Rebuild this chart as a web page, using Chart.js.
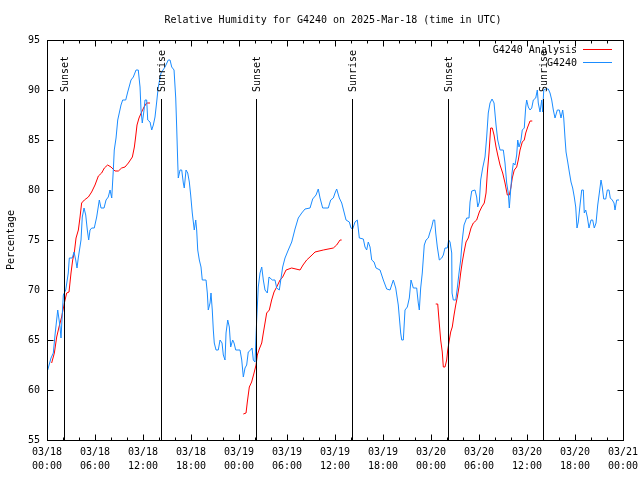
<!DOCTYPE html>
<html>
<head>
<meta charset="utf-8">
<script src="https://cdn.jsdelivr.net/npm/chart.js@4.4.1/dist/chart.umd.min.js"></script>
<style>
  html, body { margin: 0; padding: 0; background: #fff; }
  #wrap { width: 640px; height: 480px; }
</style>
</head>
<body>
<div id="wrap"><canvas id="rhChart" width="640" height="480"></canvas></div>
<script>
// hours since 03/18 00:00 UTC
const obsHoursA = [0.09,0.5,0.79,1.0,1.34,1.63,1.75,2.04,2.34,2.66,2.79,3.16,3.38,3.59,3.75,3.91,4.25,4.41,4.63,4.84,5.04,5.21,5.38,5.59,5.91,6.21,6.54,6.75,7.13,7.38,7.66,7.88,8.09,8.29,8.41,8.63,8.84,9.25,9.46,9.84,10.09,10.5,10.79,11.13,11.41,11.63,11.75,11.91,12.13,12.25,12.46,12.59,12.88,13.09,13.29,13.5,13.71,13.91,14.25];
const obsRHA = [62.0,63.2,63.7,65.5,68,66.3,65.2,69.5,70,71.7,73.2,73.2,73.8,73,72.2,73.2,75,77.3,78.2,77.5,76,75,76,76.2,76.2,77.3,79,78.2,78.2,79,79.3,80,79.2,82,84,85.2,87,88.5,89,89,89.8,91,91.3,92,92,90.3,88,86.7,88,89,89,87,86.8,86,86.5,87.3,88.8,90.3,91.7];

const obsHoursB = [14.75,15.16,15.38,15.59,15.88,16.09,16.21,16.34,16.41,16.63,16.84,17.04,17.16,17.38,17.59,17.79,17.96,18.16,18.41,18.59,18.71,18.84,19.04,19.25,19.41,19.88,20.04,20.16,20.38,20.5,20.66,20.79,20.91,21.13,21.41,21.63,21.88,22.04,22.25,22.38,22.59,22.79,22.96,23.21,23.38,23.59,24.13,24.34,24.54,24.75,24.96,25.16,25.46,25.63,25.79,26.0,26.21,26.41,26.63,26.84,27.04,27.25,27.54,27.75,28.16,28.5,28.71,29.04];
const obsRHB = [92.3,93,93,92.3,92,89.2,86.3,82.8,81.2,82,82,80.7,80.2,82,81.7,80.8,79.5,77.7,76,77,76,74,73,72.3,71,71,69.7,68,68.7,69.7,68,66,64.7,64,64,65,64.7,63.5,63,65.7,67,66.3,64.3,65,64.7,64,64,63,61.3,62.2,62.5,63.8,64,64.2,63,62.8,67,70.3,71.7,72.3,71,70,69.7,71.3,71,71,70.2,70];

const obsHoursC = [29.46,29.75,30.16,30.59,31.0,31.41,31.84,32.25,32.88,33.21,33.63,33.91,34.13,34.46,35.16,35.46,35.79,36.0,36.21,36.54,36.84,37.16,37.38,37.79,38.0,38.21,38.5,38.79,39.04,39.54,39.75,39.96,40.16,40.38,40.59,40.88,41.13,41.63,42.04,42.46,42.88,43.29,43.59];
const obsRHC = [72.3,73.2,74,74.8,76.1,77.2,77.7,78.1,78.2,79.1,79.5,80.1,79.2,78.2,78.2,79,79.2,79.7,80.1,79.2,78.7,77.7,77,76.8,76.2,76.1,76.8,77,75.2,75.1,74.3,74,74.8,74.3,73,72.8,72.2,72,71,70.1,70,71,70.2];

const obsHoursD = [43.91,44.21,44.34,44.54,44.75,45.04,45.29,45.5,45.79,46.21,46.41,46.54,46.71,46.91,47.16,47.38,47.66,47.88,48.09,48.29,48.46,48.59,48.79,49.04,49.34,49.54,49.75,50.04,50.21,50.38,50.59,50.63,50.79,51.09,51.29,51.5,51.71,51.91,52.13,52.46,52.75,52.88,53.09,53.5,53.71,53.84,54.04,54.21,54.46,54.75,54.96,55.16,55.38,55.63,55.88,56.13,56.34,56.63,57.04,57.25,57.46,57.66,57.79,57.96,58.13];
const obsRHD = [68.5,65.7,65,65,68,68.3,69.2,71,70.2,70.2,68.7,68,70.2,71.7,74.5,75,75.2,75.8,76.3,77,77,75.7,74.3,73,73.2,73.5,74.2,74.2,75,74.8,73.7,69.7,69,69,70.2,71.7,73,75,76.5,77.2,77.2,78.8,79.9,80,79.3,78.3,78.8,81,82.2,83.3,85.3,87.7,88.7,89.1,88.7,86.5,85,84,84,82.7,80.7,79.7,78.2,80,81.7];

const obsHoursE = [58.29,58.5,58.71,58.84,59.0,59.25,59.41,59.66,59.84,59.96,60.16,60.38,60.59,60.79,61.09,61.29,61.41,61.63,61.84,61.96,62.09,62.34,62.66,62.88,63.09,63.29,63.5,63.79,64.04,64.25,64.46,64.59,64.75,64.88,65.09,65.29,65.5,65.71,65.91,66.09,66.25,66.41,66.63,66.84,67.04,67.16,67.34,67.54,67.75,68.0,68.21,68.41,68.63,68.84,69.04,69.25,69.41,69.59,69.84,70.04,70.25,70.41,70.66,70.88,71.0,71.21,71.5];
const obsRHE = [82.7,82.5,83.5,85,84.3,85,86,86.2,88.3,89,88.3,88,88.2,89,89.2,90,88.7,87.8,89,87.8,90,90.1,90.1,89.7,89,88,87.2,88,88,87.2,88,87.2,85.2,83.8,82.8,81.8,80.8,80.2,79.3,78.3,76.2,76.8,78.5,80,80,77.7,78,77.3,76.2,77,77,76.2,76.7,78.5,79.7,81,80.3,79.1,79.1,80,80,79.2,79,78.7,78,79,79];

// analysis runs (three separate pieces)
const anaHours1 = [0.58,0.92,1.21,1.5,1.83,2.17,2.46,2.75,3.0,3.21,3.42,3.63,3.92,4.13,4.33,4.67,5.17,5.58,6.0,6.42,6.83,7.17,7.58,8.0,8.5,8.92,9.33,9.75,10.17,10.67,10.92,11.08,11.25,11.5,11.83,12.13,12.46,12.88];
const anaRH1 = [62.7,63.7,65.3,66.3,67.3,68.7,69.7,69.8,71.7,73,73.8,75.2,76,77.3,78.7,79,79.3,79.8,80.5,81.4,81.7,82.2,82.5,82.3,81.9,81.9,82.2,82.3,82.7,83.3,84.3,85.3,86.5,87.2,87.8,88.3,88.7,88.7];
const anaHours2 = [24.54,24.88,25.04,25.29,25.58,25.88,26.13,26.29,26.54,26.84,27.04,27.25,27.46,27.79,28.08,28.38,28.71,29.13,29.46,29.88,30.58,31.63,32.0,32.46,33.13,33.5,34.54,35.79,36.21,36.63,36.83];
const anaRH2 = [57.6,57.7,58.8,60.3,60.8,61.7,62.5,63.5,64.1,64.7,65.7,66.7,67.7,68,69,69.8,70.3,71,71.3,72,72.2,72,72.5,73,73.5,73.8,74,74.2,74.5,75,75];
const anaHours3 = [48.59,48.84,49.0,49.21,49.41,49.54,49.75,49.96,50.09,50.29,50.46,50.66,50.88,51.09,51.29,51.5,51.71,51.91,52.13,52.38,52.66,53.0,53.29,53.71,54.04,54.34,54.66,54.88,55.04,55.25,55.46,55.66,55.88,56.13,56.34,56.63,56.96,57.25,57.54,57.79,58.0,58.16,58.41,58.71,58.91,59.13,59.41,59.66,59.84,60.09,60.38,60.66];
const anaRH3 = [68.6,68.6,67,65,63.8,62.3,62.3,63,64,65,65.8,66.3,67.5,68.5,69.3,70.3,71.7,72.8,73.8,74.8,75.2,76.2,76.7,77,77.8,78.3,78.7,79.7,81.7,83.7,86.2,86.2,85.5,84.3,83.5,82.5,81.7,80.7,79.5,79.5,80.3,81.2,82,82.3,83,84,84.8,85,85.7,86.3,86.9,86.9];

const sunsetHours = [2.15, 26.1, 50.1];
const sunriseHours = [14.25, 38.15, 62.0];
const sunLineTop = 89.1;

const tickHours = [0,6,12,18,24,30,36,42,48,54,60,66,72];
const tickDates = ['03/18','03/18','03/18','03/18','03/19','03/19','03/19','03/19','03/20','03/20','03/20','03/20','03/21'];
const tickTimes = ['00:00','06:00','12:00','18:00','00:00','06:00','12:00','18:00','00:00','06:00','12:00','18:00','00:00'];

const RED = '#ff0000';
const BLUE = '#1a8cff';
const FONT = 'DejaVu Sans Mono';

const toPoints = (xs, ys) => xs.map((h, i) => ({ x: h, y: ys[i] }));

const obsPoints = toPoints(
    obsHoursA.concat(obsHoursB, obsHoursC, obsHoursD, obsHoursE),
    obsRHA.concat(obsRHB, obsRHC, obsRHD, obsRHE)
);

const lineStyle = (color) => ({
    borderColor: color,
    backgroundColor: color,
    borderWidth: 1,
    pointRadius: 0,
    tension: 0,
    fill: false
});

// gnuplot-ish frame, ticks, labels, legend and sun markers
const frame = {
    id: 'frame',
    beforeDraw(chart) {
        const c = chart.ctx;
        c.save();
        c.fillStyle = '#fff';
        c.fillRect(0, 0, chart.width, chart.height);
        c.restore();
    },
    afterDatasetsDraw(chart) {
        const c = chart.ctx;
        const xs = chart.scales.x, ys = chart.scales.y;
        const top = ys.getPixelForValue(sunLineTop);
        const bottom = chart.chartArea.bottom;
        c.save();
        c.strokeStyle = '#000';
        c.lineWidth = 1;
        c.fillStyle = '#000';
        c.font = '10px "' + FONT + '"';
        const drawSun = (h, label) => {
            const px = Math.round(xs.getPixelForValue(h)) + 0.5;
            c.beginPath();
            c.moveTo(px, top);
            c.lineTo(px, bottom);
            c.stroke();
            c.save();
            c.translate(px + 1, top - 7);
            c.rotate(-Math.PI / 2);
            c.textAlign = 'left';
            c.textBaseline = 'middle';
            c.fillText(label, 0, 0);
            c.restore();
        };
        sunsetHours.forEach(h => drawSun(h, 'Sunset'));
        sunriseHours.forEach(h => drawSun(h, 'Sunrise'));
        c.restore();
    },
    afterDraw(chart) {
        const c = chart.ctx;
        const a = chart.chartArea;
        const xs = chart.scales.x, ys = chart.scales.y;
        const L = Math.round(a.left) + 0.5, R = Math.round(a.right) + 0.5;
        const T = Math.round(a.top) + 0.5, B = Math.round(a.bottom) + 0.5;
        c.save();
        c.strokeStyle = '#000';
        c.lineWidth = 1;
        c.strokeRect(L, T, R - L, B - T);

        // x ticks: major every 6h, minor every 2h, on bottom and top
        c.beginPath();
        for (let h = 0; h <= 72; h += 2) {
            const px = Math.round(xs.getPixelForValue(h)) + 0.5;
            const len = h % 6 === 0 ? 6 : 3;
            c.moveTo(px, B); c.lineTo(px, B - len);
            c.moveTo(px, T); c.lineTo(px, T + len);
        }
        // y ticks on both sides
        for (let v = 55; v <= 95; v += 5) {
            const py = Math.round(ys.getPixelForValue(v)) + 0.5;
            c.moveTo(L, py); c.lineTo(L + 6, py);
            c.moveTo(R, py); c.lineTo(R - 6, py);
        }
        c.stroke();

        c.fillStyle = '#000';
        c.font = '10px "' + FONT + '"';
        c.textBaseline = 'middle';

        // title
        c.textAlign = 'center';
        c.fillText('Relative Humidity for G4240 on 2025-Mar-18 (time in UTC)', 333, 20);

        // y axis label
        c.save();
        c.translate(11, 240);
        c.rotate(-Math.PI / 2);
        c.fillText('Percentage', 0, 0);
        c.restore();

        // legend
        c.textAlign = 'right';
        c.fillText('G4240 Analysis', 577, 50);
        c.fillText('G4240', 577, 63);
        c.strokeStyle = RED;
        c.beginPath(); c.moveTo(583, 49.5); c.lineTo(612, 49.5); c.stroke();
        c.strokeStyle = BLUE;
        c.beginPath(); c.moveTo(583, 62.5); c.lineTo(612, 62.5); c.stroke();
        c.restore();
    }
};

new Chart(document.getElementById('rhChart'), {
    type: 'line',
    data: {
        datasets: [
            Object.assign({ label: 'G4240', data: obsPoints, order: 0 }, lineStyle(BLUE)),
            Object.assign({ label: 'G4240 Analysis', data: toPoints(anaHours1, anaRH1), order: 1 }, lineStyle(RED)),
            Object.assign({ label: 'G4240 Analysis', data: toPoints(anaHours2, anaRH2), order: 1 }, lineStyle(RED)),
            Object.assign({ label: 'G4240 Analysis', data: toPoints(anaHours3, anaRH3), order: 1 }, lineStyle(RED))
        ]
    },
    options: {
        responsive: false,
        animation: false,
        devicePixelRatio: 1,
        layout: { padding: { top: 40, right: 17, left: 0, bottom: 0 } },
        plugins: {
            legend: { display: false },
            title: { display: false },
            tooltip: { enabled: false }
        },
        scales: {
            x: {
                type: 'linear',
                min: 0,
                max: 72,
                afterFit: s => { s.height = 40; s.paddingLeft = 0; s.paddingRight = 0; },
                afterBuildTicks: s => { s.ticks = tickHours.map(v => ({ value: v })); },
                grid: { display: false, drawTicks: false },
                border: { display: false },
                ticks: {
                    autoSkip: false,
                    maxRotation: 0,
                    padding: 5,
                    color: '#000',
                    font: { family: FONT, size: 10, lineHeight: 1.4 },
                    callback: (v) => {
                        const i = tickHours.indexOf(v);
                        return i < 0 ? '' : [tickDates[i], tickTimes[i]];
                    }
                }
            },
            y: {
                min: 55,
                max: 95,
                afterFit: s => { s.width = 47; s.paddingTop = 0; s.paddingBottom = 0; },
                grid: { display: false, drawTicks: false },
                border: { display: false },
                ticks: {
                    stepSize: 5,
                    padding: 7,
                    color: '#000',
                    font: { family: FONT, size: 10 }
                }
            }
        }
    },
    plugins: [frame]
});
</script>
</body>
</html>
